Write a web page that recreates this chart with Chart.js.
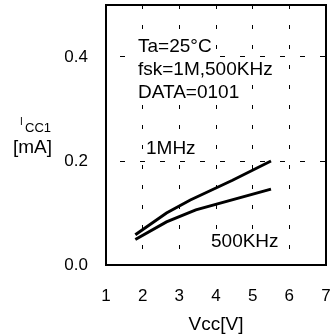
<!DOCTYPE html>
<html>
<head>
<meta charset="utf-8">
<script src="https://cdn.jsdelivr.net/npm/chart.js@4"></script>
<style>
  html, body { margin: 0; padding: 0; background: #fff; }
  #wrap { width: 334px; height: 336px; }
</style>
</head>
<body>
<div id="wrap"><canvas id="iccChart"></canvas></div>
<script>
// Supply current vs. supply voltage
const vcc1M = [1.8, 2.65, 3.3, 4.45, 5.5];
const icc1M = [0.058, 0.1, 0.125, 0.163, 0.2];
const vcc500K = [1.8, 2.65, 3.45, 5.5];
const icc500K = [0.049, 0.083, 0.106, 0.146];

const xTicks = [1, 2, 3, 4, 5, 6, 7];
const yTicks = [0, 0.2, 0.4];
const yLabels = ['0.0', '0.2', '0.4'];

const notes = ['Ta=25°C', 'fsk=1M,500KHz', 'DATA=0101'];
const curveNames = ['1MHz', '500KHz'];

const FONT = "'Liberation Sans', Arial, sans-serif";
Chart.defaults.font.family = FONT;
Chart.defaults.color = '#000';

function toPoints(xs, ys) {
    return xs.map((x, i) => ({ x: x, y: ys[i] }));
}

// scales add label overhang + tick padding to the layout; drop that
function noScalePadding(scale) {
    scale.paddingTop = 0;
    scale.paddingBottom = 0;
    scale.paddingLeft = 0;
    scale.paddingRight = 0;
}

// text on a white patch so the dashed grid stops under it
function boxedText(ctx, text, x, y) {
    const w = ctx.measureText(text).width;
    ctx.fillStyle = '#fff';
    ctx.fillRect(x - 2, y - 16, w + 4, 21);
    ctx.fillStyle = '#000';
    ctx.fillText(text, x, y);
}

const extrasPlugin = {
    id: 'extras',
    beforeDatasetsDraw(chart) {
        const ctx = chart.ctx;
        ctx.save();
        ctx.textBaseline = 'alphabetic';
        ctx.textAlign = 'left';
        ctx.font = '19px ' + FONT;
        boxedText(ctx, notes[0], 138, 52);
        boxedText(ctx, notes[1], 138, 75);
        boxedText(ctx, notes[2], 138, 98);
        boxedText(ctx, curveNames[0], 146, 154);
        boxedText(ctx, curveNames[1], 211, 247);
        ctx.restore();
    },
    afterDraw(chart) {
        const ctx = chart.ctx;
        const a = chart.chartArea;
        ctx.save();
        ctx.strokeStyle = '#000';
        ctx.lineWidth = 2;
        ctx.strokeRect(a.left, a.top, a.right - a.left, a.bottom - a.top);

        // y axis title: I with subscript CC1, then [mA]
        ctx.fillStyle = '#000';
        ctx.textBaseline = 'alphabetic';
        ctx.textAlign = 'left';
        ctx.font = '10px ' + FONT;
        ctx.fillText('I', 20, 125);
        ctx.font = '13px ' + FONT;
        ctx.fillText('CC1', 25, 132);
        ctx.font = '19px ' + FONT;
        ctx.fillText('[mA]', 13, 153);
        ctx.restore();
    }
};

const ctx = document.getElementById('iccChart').getContext('2d');
new Chart(ctx, {
    type: 'line',
    data: {
        datasets: [
            {
                label: curveNames[0],
                data: toPoints(vcc1M, icc1M),
                borderColor: '#000',
                borderWidth: 3,
                pointRadius: 0,
                tension: 0
            },
            {
                label: curveNames[1],
                data: toPoints(vcc500K, icc500K),
                borderColor: '#000',
                borderWidth: 3,
                pointRadius: 0,
                tension: 0
            }
        ]
    },
    options: {
        animation: false,
        responsive: true,
        maintainAspectRatio: false,
        layout: { padding: { top: 5, right: 8, left: 0, bottom: 0 } },
        plugins: {
            legend: { display: false },
            tooltip: { enabled: false }
        },
        scales: {
            x: {
                type: 'linear',
                min: 1,
                max: 7,
                afterBuildTicks: (scale) => { scale.ticks = xTicks.map(v => ({ value: v })); },
                afterFit: (scale) => { scale.height = 71; noScalePadding(scale); },
                grid: { color: '#000', lineWidth: 1, drawTicks: false },
                border: { display: false, dash: [4, 16] },
                ticks: { font: { size: 17 }, padding: 21, maxRotation: 0 },
                title: { display: true, text: 'Vcc[V]', font: { size: 19 }, padding: { top: 0, bottom: 0 } }
            },
            y: {
                type: 'linear',
                min: 0,
                max: 0.5,
                afterBuildTicks: (scale) => { scale.ticks = yTicks.map(v => ({ value: v })); },
                afterFit: (scale) => { scale.width = 106; noScalePadding(scale); },
                grid: { color: '#000', lineWidth: 1, drawTicks: false },
                border: { display: false, dash: [5, 15], dashOffset: 6 },
                ticks: {
                    font: { size: 17 },
                    padding: 18,
                    callback: (v) => yLabels[yTicks.indexOf(v)]
                }
            }
        }
    },
    plugins: [extrasPlugin]
});
</script>
</body>
</html>
